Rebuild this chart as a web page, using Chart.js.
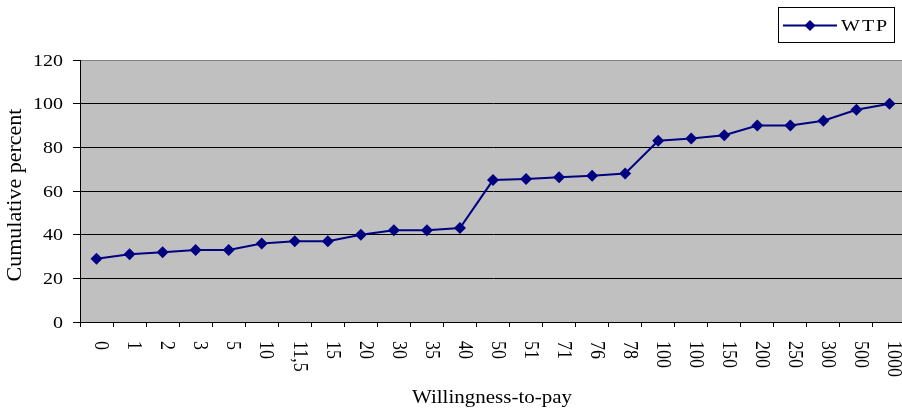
<!DOCTYPE html>
<html>
<head>
<meta charset="utf-8">
<script src="https://cdn.jsdelivr.net/npm/chart.js@4.4.1/dist/chart.umd.min.js"></script>
<style>
  html, body { margin: 0; padding: 0; background: #fff; overflow: hidden; }
  #wtpChart { display: block; }
</style>
</head>
<body>
<canvas id="wtpChart" width="912" height="410"></canvas>
<script>
const wtpLabels = ['0', '1', '2', '3', '5', '10', '11,5', '15', '20', '30', '35', '40', '50',
  '51', '71', '76', '78', '100', '100', '150', '200', '250', '300', '500', '1000'];
const cumulativePercent = [29, 31, 32, 33, 33, 36, 37, 37, 40, 42, 42, 43, 65,
  65.5, 66.3, 67, 68, 83, 84, 85.5, 90, 90, 92.2, 97.2, 100];
const yTicks = [0, 20, 40, 60, 80, 100, 120];

const serif = "'Liberation Serif', 'Times New Roman', serif";
const navy = '#000080';

// text drawn slightly squashed vertically, like the old office chart output
function squashedText(ctx, text, x, y, sx, sy) {
  ctx.save();
  ctx.translate(x, y);
  ctx.scale(sx, sy);
  ctx.fillText(text, 0, 0);
  ctx.restore();
}

// grey plot background, tick labels, axis titles and boxed legend
const decorations = {
  id: 'decorations',
  beforeDraw(chart) {
    const { ctx, chartArea: a } = chart;
    ctx.save();
    ctx.fillStyle = '#c0c0c0';
    ctx.fillRect(a.left, a.top, a.right - a.left, a.bottom - a.top);
    ctx.restore();
  },
  afterDraw(chart) {
    const { ctx, chartArea: a } = chart;
    const xScale = chart.scales.x;
    const yScale = chart.scales.y;
    ctx.save();
    ctx.fillStyle = '#000';

    // y tick labels
    ctx.font = `20px ${serif}`;
    ctx.textAlign = 'right';
    ctx.textBaseline = 'middle';
    yTicks.forEach(v => {
      squashedText(ctx, String(v), a.left - 17, yScale.getPixelForValue(v) + 1, 1, 0.88);
    });

    // x tick labels, turned to read downwards
    ctx.textAlign = 'left';
    wtpLabels.forEach((label, i) => {
      const x = xScale.getPixelForTick(i);
      ctx.save();
      ctx.translate(x + 4, a.bottom + 19);
      ctx.rotate(Math.PI / 2);
      squashedText(ctx, label, 0, 0, 0.9, 1);
      ctx.restore();
    });

    ctx.textAlign = 'center';
    ctx.font = `21px ${serif}`;
    squashedText(ctx, 'Willingness-to-pay', (a.left + a.right) / 2 - 1, 398, 1, 0.9);

    ctx.font = `22px ${serif}`;
    ctx.save();
    ctx.translate(15, 195);
    ctx.rotate(-Math.PI / 2);
    ctx.fillText('Cumulative percent', 0, 0);
    ctx.restore();

    // legend
    ctx.strokeStyle = '#000';
    ctx.lineWidth = 1;
    ctx.strokeRect(778.5, 7.5, 116, 35);
    ctx.strokeStyle = navy;
    ctx.lineWidth = 2;
    ctx.beginPath();
    ctx.moveTo(783, 25.5);
    ctx.lineTo(837, 25.5);
    ctx.stroke();
    ctx.fillStyle = navy;
    ctx.beginPath();
    ctx.moveTo(810, 20);
    ctx.lineTo(815.5, 25.5);
    ctx.lineTo(810, 31);
    ctx.lineTo(804.5, 25.5);
    ctx.closePath();
    ctx.fill();
    ctx.fillStyle = '#000';
    ctx.textAlign = 'left';
    ctx.font = `20px ${serif}`;
    ctx.letterSpacing = '2px';
    squashedText(ctx, 'WTP', 841, 26, 1, 0.88);
    ctx.restore();
  }
};

new Chart(document.getElementById('wtpChart').getContext('2d'), {
  type: 'line',
  data: {
    labels: wtpLabels,
    datasets: [{
      label: 'WTP',
      data: cumulativePercent,
      borderColor: navy,
      backgroundColor: navy,
      borderWidth: 2,
      tension: 0,
      pointStyle: 'rectRot',
      pointRadius: 6,
      pointHoverRadius: 6,
      pointBorderWidth: 0
    }]
  },
  options: {
    responsive: false,
    animation: false,
    events: [],
    layout: { padding: { top: 60, right: 0, left: 0, bottom: 0 } },
    plugins: {
      legend: { display: false },
      tooltip: { enabled: false }
    },
    scales: {
      x: {
        offset: true,
        afterFit(scale) { scale.height = 88; },
        grid: {
          offset: true,
          drawOnChartArea: false,
          color: '#000',
          tickLength: 5
        },
        border: { color: '#000', width: 1 },
        ticks: { display: false }
      },
      y: {
        min: 0,
        max: 120,
        afterFit(scale) { scale.width = 80; },
        afterBuildTicks(scale) {
          scale.ticks = yTicks.map(v => ({ value: v }));
        },
        grid: {
          color: ctx => (ctx.tick && ctx.tick.value === 120 ? '#808080' : '#000'),
          tickColor: '#000',
          tickLength: 7,
          lineWidth: 1
        },
        border: { color: '#000', width: 1 },
        ticks: { display: false }
      }
    }
  },
  plugins: [decorations]
});
</script>
</body>
</html>
